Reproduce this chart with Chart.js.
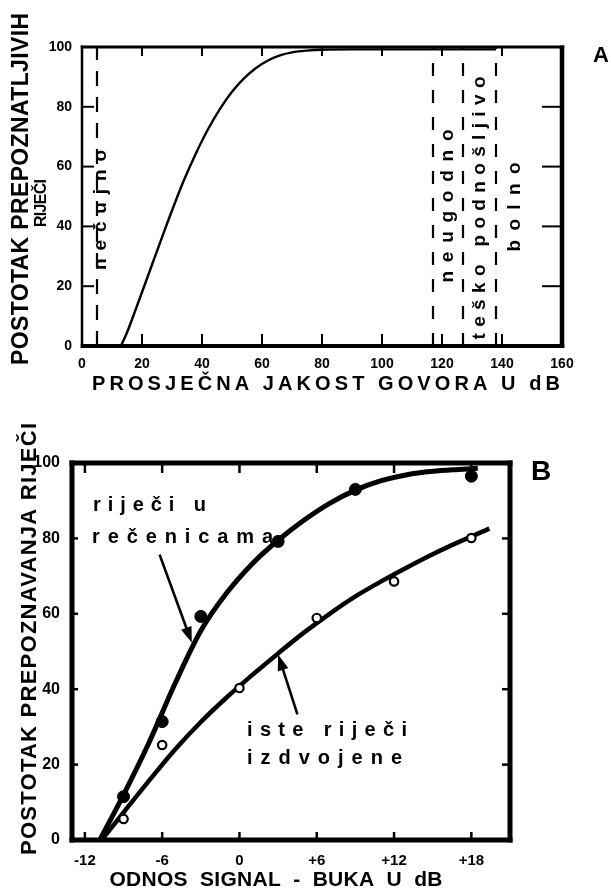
<!DOCTYPE html>
<html lang="hr">
<head>
<meta charset="utf-8">
<title>Razumljivost govora</title>
<script src="https://cdn.jsdelivr.net/npm/chart.js@4.4.1/dist/chart.umd.min.js"></script>
<style>
  html, body { margin: 0; padding: 0; background: #fff; }
  #okvir { position: relative; width: 611px; height: 889px; overflow: hidden; background: #fff; }
  #grafA { position: absolute; left: 0; top: 0; }
  #grafB { position: absolute; left: 0; top: 400px; }
</style>
</head>
<body>
<div id="okvir">
  <canvas id="grafA" width="611" height="400"></canvas>
  <canvas id="grafB" width="611" height="489"></canvas>
</div>
<script>
// ---------- podaci: slika A ----------
// prosječna jakost govora (dB) i postotak prepoznatih riječi
const jakostGovora = [13, 15, 18, 22, 26, 30, 34, 38, 42, 46, 50, 54, 58, 62, 66, 70, 75, 80, 90, 100, 120, 138];
const postotakA    = [0, 4.5, 12.5, 23.5, 34.5, 45.3, 55.5, 64.5, 72.5, 79.3, 85, 89.5, 93, 95.5, 97.2, 98.2, 98.8, 99.1, 99.2, 99.2, 99.2, 99.2];
// granice zona (nečujno | neugodno | teško podnošljivo | bolno)
const graniceZona = [5, 117, 127, 138];

// ---------- podaci: slika B ----------
// izmjerene točke
const snrRecenice       = [-9, -6, -3, 3, 9, 18];
const postotakRecenice  = [11.5, 31.4, 59.3, 79.2, 93.0, 96.5];
const snrIzdvojene      = [-9, -6, 0, 6, 12, 18];
const postotakIzdvojene = [5.6, 25.2, 40.3, 58.9, 68.6, 80.1];
// izglađene krivulje kroz točke
const krivRecX = [-10.85, -9, -7, -5, -3, -1, 1, 3, 5, 7, 9, 11, 13, 15, 17, 18.5];
const krivRecY = [0, 12, 26, 41.5, 55.5, 65.5, 73.3, 79.5, 84.8, 89.3, 92.8, 95.3, 96.9, 97.8, 98.3, 98.6];
const krivIzdX = [-10.7, -9, -7, -5, -3, -1, 1, 3, 5, 7, 9, 11, 13, 15, 17, 19.4];
const krivIzdY = [0, 7.3, 15.8, 24, 31.3, 37.8, 43.8, 49.5, 55, 60, 64.6, 68.6, 72.3, 75.8, 79, 82.6];
// oznake na osi x
const xTickoviB = [-12, -6, 0, 6, 12, 18];
const xOznakeB  = ['-12', '-6', '0', '+6', '+12', '+18'];

const FONT = '"Liberation Sans", Arial, Helvetica, sans-serif';
Chart.defaults.font.family = FONT;
Chart.defaults.font.weight = 'bold';
Chart.defaults.color = '#000';

function tocke(xs, ys) {
  return xs.map((x, i) => ({ x: x, y: ys[i] }));
}

// tekst s razmakom slova tako da zauzme zadanu širinu
function crtajTekst(ctx, n) {
  ctx.save();
  ctx.font = 'bold ' + n.size + 'px ' + FONT;
  ctx.fillStyle = '#000';
  ctx.textBaseline = 'middle';
  ctx.textAlign = 'left';
  ctx.translate(n.x, n.y);
  if (n.rot) ctx.rotate(n.rot * Math.PI / 180);
  ctx.letterSpacing = '0px';
  const w0 = ctx.measureText(n.text).width;
  let ls = 0;
  if (n.width && n.text.length > 1) ls = (n.width - w0) / (n.text.length - 1);
  ctx.letterSpacing = ls + 'px';
  const span = w0 + ls * (n.text.length - 1);
  ctx.fillText(n.text, n.align === 'left' ? 0 : -span / 2, 0);
  ctx.restore();
}

function linija(ctx, x1, y1, x2, y2) {
  ctx.beginPath();
  ctx.moveTo(x1, y1);
  ctx.lineTo(x2, y2);
  ctx.stroke();
}

// okvir grafa i kratke crtice okrenute prema unutra
const okvirPlugin = {
  id: 'okvirPapira',
  afterDatasetsDraw(chart, args, o) {
    const ctx = chart.ctx;
    const a = chart.chartArea;
    const sx = chart.scales.x, sy = chart.scales.y;
    ctx.save();
    ctx.strokeStyle = '#000';
    ctx.lineWidth = o.tickWidth;
    sx.ticks.forEach(t => {
      const p = sx.getPixelForValue(t.value);
      if (p <= a.left + 2 || p >= a.right - 2) return;
      linija(ctx, p, a.bottom, p, a.bottom - o.len.bottom);
      linija(ctx, p, a.top, p, a.top + o.len.top);
    });
    sy.ticks.forEach(t => {
      const p = sy.getPixelForValue(t.value);
      if (p <= a.top + 2 || p >= a.bottom - 2) return;
      linija(ctx, a.left, p, a.left + o.len.left, p);
      linija(ctx, a.right, p, a.right - o.len.right, p);
    });
    const b = o.border;
    ctx.lineWidth = b.top;    linija(ctx, a.left - b.left / 2, a.top, a.right + b.right / 2, a.top);
    ctx.lineWidth = b.bottom; linija(ctx, a.left - b.left / 2, a.bottom, a.right + b.right / 2, a.bottom);
    ctx.lineWidth = b.left;   linija(ctx, a.left, a.top - b.top / 2, a.left, a.bottom + b.bottom / 2);
    ctx.lineWidth = b.right;  linija(ctx, a.right, a.top - b.top / 2, a.right, a.bottom + b.bottom / 2);
    ctx.restore();
  }
};

// natpisi i strelice
const natpisiPlugin = {
  id: 'natpisi',
  afterDraw(chart, args, o) {
    const ctx = chart.ctx;
    (o.tekstovi || []).forEach(n => crtajTekst(ctx, n));
    const sx = chart.scales.x, sy = chart.scales.y;
    (o.strelice || []).forEach(s => {
      const x1 = sx.getPixelForValue(s.od[0]), y1 = sy.getPixelForValue(s.od[1]);
      const x2 = sx.getPixelForValue(s.do[0]), y2 = sy.getPixelForValue(s.do[1]);
      const kut = Math.atan2(y2 - y1, x2 - x1);
      const L = 16, W = 5.5;
      ctx.save();
      ctx.strokeStyle = '#000';
      ctx.fillStyle = '#000';
      ctx.lineWidth = 2.6;
      linija(ctx, x1, y1, x2 - L * 0.7 * Math.cos(kut), y2 - L * 0.7 * Math.sin(kut));
      ctx.translate(x2, y2);
      ctx.rotate(kut);
      ctx.beginPath();
      ctx.moveTo(0, 0);
      ctx.lineTo(-L, -W);
      ctx.lineTo(-L, W);
      ctx.closePath();
      ctx.fill();
      ctx.restore();
    });
  }
};

const bezMreze = { display: false, drawTicks: false };

function inicijalizirajA() {
  const skupovi = [{
    data: tocke(jakostGovora, postotakA),
    borderColor: '#000',
    borderWidth: 2.4,
    pointRadius: 0,
    cubicInterpolationMode: 'monotone'
  }];
  graniceZona.forEach((g, i) => {
    skupovi.push({
      data: [{ x: g, y: 0 }, { x: g, y: 100 }],
      borderColor: '#000',
      borderWidth: 2.2,
      borderDash: i === 0 ? [15, 11] : [13, 14],
      pointRadius: 0
    });
  });

  new Chart(document.getElementById('grafA'), {
    type: 'line',
    data: { datasets: skupovi },
    options: {
      responsive: false,
      animation: false,
      layout: { padding: { left: 42, right: 49, top: 47, bottom: 14 } },
      plugins: {
        legend: { display: false },
        tooltip: { enabled: false },
        okvirPapira: {
          tickWidth: 2,
          len: { top: 9, bottom: 12, left: 12, right: 20 },
          border: { top: 3, bottom: 4, left: 2.5, right: 4.5 }
        },
        natpisi: {
          tekstovi: [
            { text: 'POSTOTAK PREPOZNATLJIVIH', x: 22, y: 189, rot: -90, size: 23, width: 352 },
            { text: 'RIJEČI', x: 42, y: 203, rot: -90, size: 16, width: 48 },
            { text: 'PROSJEČNA JAKOST GOVORA U dB', x: 326, y: 384, size: 20, width: 468 },
            { text: 'nečujno', x: 101, y: 210, rot: -90, size: 19, width: 120 },
            { text: 'neugodno', x: 448, y: 206, rot: -90, size: 19, width: 153 },
            { text: 'teško podnošljivo', x: 480, y: 208, rot: -90, size: 19, width: 263 },
            { text: 'bolno', x: 515, y: 207, rot: -90, size: 19, width: 89 },
            { text: 'A', x: 601, y: 56, size: 22 }
          ]
        }
      },
      scales: {
        x: {
          type: 'linear', min: 0, max: 160,
          afterFit: s => { s.height = 40; },
          grid: bezMreze, border: { display: false },
          ticks: { stepSize: 20, padding: 10, font: { size: 14, weight: 'bold' } }
        },
        y: {
          min: 0, max: 100,
          afterFit: s => { s.width = 40; },
          grid: bezMreze, border: { display: false },
          ticks: { stepSize: 20, padding: 10, font: { size: 14, weight: 'bold' } }
        }
      }
    },
    plugins: [okvirPlugin, natpisiPlugin]
  });
}

function inicijalizirajB() {
  new Chart(document.getElementById('grafB'), {
    type: 'line',
    data: {
      datasets: [
        {
          data: tocke(snrRecenice, postotakRecenice),
          showLine: false,
          pointRadius: 6, pointBackgroundColor: '#000', pointBorderColor: '#000',
          pointBorderWidth: 1, order: 0
        },
        {
          data: tocke(snrIzdvojene, postotakIzdvojene),
          showLine: false,
          pointRadius: 4.2, pointBackgroundColor: '#fff', pointBorderColor: '#000',
          pointBorderWidth: 2.2, order: 0
        },
        {
          data: tocke(krivRecX, krivRecY),
          borderColor: '#000', borderWidth: 5, pointRadius: 0,
          cubicInterpolationMode: 'monotone', order: 1
        },
        {
          data: tocke(krivIzdX, krivIzdY),
          borderColor: '#000', borderWidth: 4.5, pointRadius: 0,
          cubicInterpolationMode: 'monotone', order: 1
        }
      ]
    },
    options: {
      responsive: false,
      animation: false,
      layout: { padding: { left: 27, right: 101, top: 63, bottom: 19 } },
      plugins: {
        legend: { display: false },
        tooltip: { enabled: false },
        okvirPapira: {
          tickWidth: 2.5,
          len: { top: 10, bottom: 8, left: 6, right: 8 },
          border: { top: 5, bottom: 5, left: 5, right: 5 }
        },
        natpisi: {
          tekstovi: [
            { text: 'POSTOTAK PREPOZNAVANJA RIJEČI', x: 30, y: 239, rot: -90, size: 22, width: 432 },
            { text: 'ODNOS  SIGNAL  -  BUKA  U  dB', x: 276, y: 480, size: 21, width: 333 },
            { text: 'B', x: 541, y: 72, size: 28 },
            { text: 'riječi u', x: 93, y: 105, size: 20, width: 113, align: 'left' },
            { text: 'rečenicama', x: 92, y: 137, size: 20, width: 181, align: 'left' },
            { text: 'iste riječi', x: 247, y: 330, size: 20, width: 160, align: 'left' },
            { text: 'izdvojene', x: 247, y: 358, size: 20, width: 155, align: 'left' }
          ],
          strelice: [
            { od: [-6.2, 75.7], do: [-3.7, 52.3] },
            { od: [4.5, 33.3], do: [3.0, 49.2] }
          ]
        }
      },
      scales: {
        x: {
          type: 'linear', min: -13, max: 21,
          afterBuildTicks: s => { s.ticks = xTickoviB.map(v => ({ value: v })); },
          afterFit: s => { s.height = 30; },
          grid: bezMreze, border: { display: false },
          ticks: {
            padding: 12,
            font: { size: 15, weight: 'bold' },
            callback: v => { const i = xTickoviB.indexOf(v); return i < 0 ? '' : xOznakeB[i]; }
          }
        },
        y: {
          min: 0, max: 100,
          afterFit: s => { s.width = 45; },
          grid: bezMreze, border: { display: false },
          ticks: { stepSize: 20, padding: 12, font: { size: 16, weight: 'bold' } }
        }
      }
    },
    plugins: [okvirPlugin, natpisiPlugin]
  });
}

if (typeof Chart === 'undefined') {
  console.error('Chart.js nije učitan');
} else {
  inicijalizirajA();
  inicijalizirajB();
}
</script>
</body>
</html>
